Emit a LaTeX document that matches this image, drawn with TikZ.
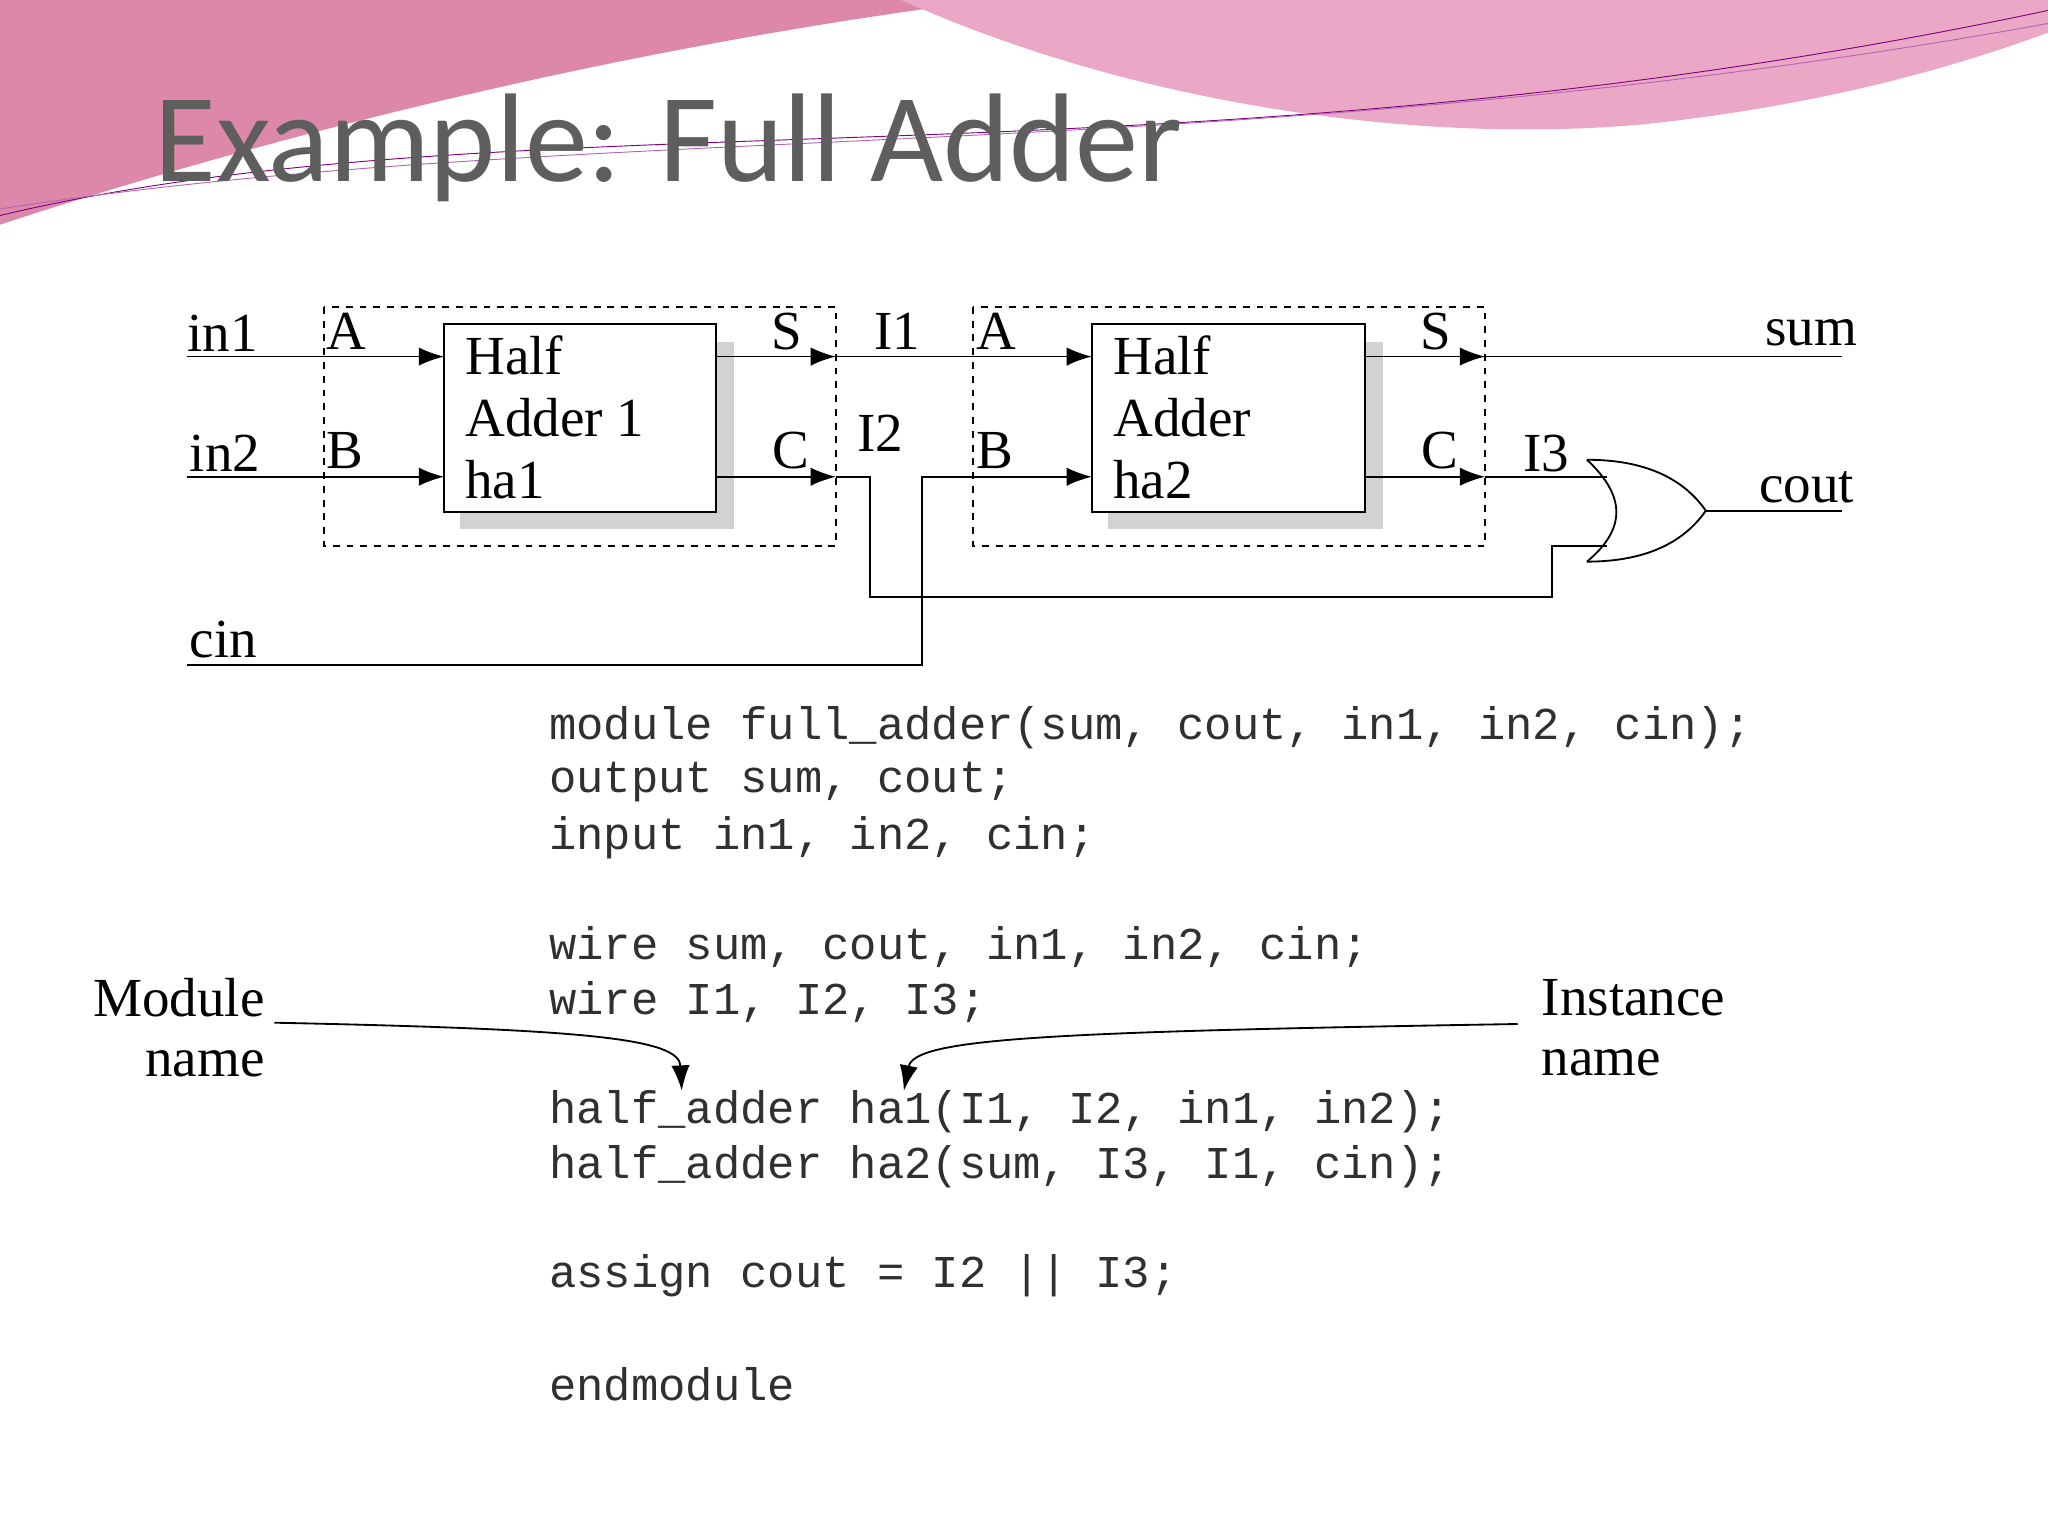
\documentclass[tikz,border=0pt]{standalone}
\usepackage{fontspec}
\setmainfont{Liberation Serif}
\newfontfamily\titlefont{Carlito}
\newfontfamily\codefont{Liberation Mono}
\usetikzlibrary{positioning, arrows.meta}
\definecolor{wavepink}{HTML}{DD88AA}
\definecolor{wavelight}{HTML}{EBA8C6}
\definecolor{titlegray}{HTML}{5E5E5E}
\definecolor{codegray}{HTML}{303030}
\tikzset{
    lbl/.style = {
        inner sep=0pt,
        anchor=west,
        font=\fontsize{24}{26}\selectfont
    },
    code/.style = {
        inner sep=0pt,
        anchor=west,
        text=codegray,
        font=\codefont\fontsize{19.85}{21}\selectfont
    },
    block/.style = {
        draw,
        thick,
        fill=white
    },
    frame/.style = {
        draw,
        dashed,
        thick
    },
    wire/.style = {
        thick
    },
    tip/.style = {
        -{Latex[length=11pt, width=8pt]}
    },
}

\begin{document}
\begin{tikzpicture}[x=0.02cm, y=-0.02cm]
    \useasboundingbox (0,0) rectangle (1568,1176);
    % background wave
    \fill[wavepink] (0,0) -- (0,172) .. controls (250,90) and (520,30) .. (760,0) -- cycle;
    \fill[wavelight] (690,0) .. controls (880,85) and (1100,110) .. (1260,95) .. controls (1400,80) and (1500,50) .. (1568,25) -- (1568,0) -- cycle;
    \draw[violet, thin] (0,165) .. controls (400,70) and (900,150) .. (1568,8);
    \draw[violet!60, thin] (0,160) .. controls (450,90) and (950,130) .. (1568,18);

    \node[inner sep=0pt, anchor=west, text=titlegray, font=\titlefont\fontsize{55}{58}\selectfont] (title) at (118,113) {Example: Full Adder};

    % half adders
    \draw[frame] (248,235) rectangle (640,418);
    \draw[frame] (745,235) rectangle (1137,418);
    \fill[gray!35] (352,262) rectangle (562,405);
    \fill[gray!35] (848,262) rectangle (1059,405);
    \draw[block] (340,248) rectangle (548,392);
    \draw[block] (836,248) rectangle (1045,392);
    \coordinate (ha1A) at (340,273);
    \coordinate (ha1B) at (340,365);
    \coordinate (ha1S) at (548,273);
    \coordinate (ha1C) at (548,365);
    \coordinate (ha2A) at (836,273);
    \coordinate (ha2B) at (836,365);
    \coordinate (ha2S) at (1045,273);
    \coordinate (ha2C) at (1045,365);
    \coordinate (f1S) at (640,273);
    \coordinate (f1C) at (640,365);
    \coordinate (f2S) at (1137,273);
    \coordinate (f2C) at (1137,365);

    \node[lbl] (h1a) at (356,272) {Half};
    \node[lbl] (h1b) at (356,320) {Adder 1};
    \node[lbl] (h1c) at (356,367) {ha1};
    \node[lbl] (h2a) at (852,272) {Half};
    \node[lbl] (h2b) at (852,320) {Adder};
    \node[lbl] (h2c) at (852,367) {ha2};

    % port labels
    \node[lbl] (pA1) at (250,254) {A};
    \node[lbl] (pB1) at (250,345) {B};
    \node[lbl] (pS1) at (590,254) {S};
    \node[lbl] (pC1) at (591,345) {C};
    \node[lbl] (pA2) at (747,254) {A};
    \node[lbl] (pB2) at (747,345) {B};
    \node[lbl] (pS2) at (1087,254) {S};
    \node[lbl] (pC2) at (1088,345) {C};
    \node[lbl] (lI1) at (669,254) {I1};
    \node[lbl] (lI2) at (656,332) {I2};
    \node[lbl] (lI3) at (1166,347) {I3};

    % signal names
    \node[lbl] (in1) at (143,255) {in1};
    \node[lbl] (in2) at (145,347) {in2};
    \node[lbl] (cin) at (145,490) {cin};
    \node[lbl, anchor=east] (sum) at (1422,255) {sum};
    \node[lbl, anchor=east] (cout) at (1420,373) {cout};

    % or gate
    \draw[thick] (1215,352) .. controls (1245,380) and (1245,405) .. (1215,430);
    \draw[thick] (1215,352) .. controls (1262,352) and (1290,368) .. (1306,391);
    \draw[thick] (1215,430) .. controls (1262,430) and (1290,414) .. (1306,391);
    \coordinate (orA) at (1230,365);
    \coordinate (orB) at (1230,418);
    \coordinate (orY) at (1306,391);

    % wires
    \draw[wire, tip] (143,273) -- (ha1A);
    \draw[wire, tip] (143,365) -- (ha1B);
    \draw[wire, tip] (ha1S) -- (f1S);
    \draw[wire, tip] (ha1C) -- (f1C);
    \draw[wire, tip] (f1S) -- (ha2A);
    \draw[wire, tip] (ha2S) -- (f2S);
    \draw[wire, tip] (ha2C) -- (f2C);
    \draw[wire] (f2S) -- (1410,273);
    \draw[wire] (f2C) -- (orA);
    \draw[wire] (orY) -- (1410,391);
    \draw[wire] (f1C) -- (666,365) -- (666,457) -- (1188,457) -- (1188,418) -- (orB);
    \draw[wire, tip] (143,509) -- (706,509) -- (706,365) -- (ha2B);

    % verilog code
    \node[code] (c1) at (420,557) {module full\_adder(sum, cout, in1, in2, cin);};
    \node[code] (c2) at (420,599) {output sum, cout;};
    \node[code] (c3) at (420,641) {input in1, in2, cin;};
    \node[code] (c4) at (420,725) {wire sum, cout, in1, in2, cin;};
    \node[code] (c5) at (420,767) {wire I1, I2, I3;};
    \node[code] (c6) at (420,851) {half\_adder ha1(I1, I2, in1, in2);};
    \node[code] (c7) at (420,893) {half\_adder ha2(sum, I3, I1, cin);};
    \node[code] (c8) at (420,977) {assign cout = I2 || I3;};
    \node[code] (c9) at (420,1060) {endmodule};

    % callouts
    \node[lbl, anchor=east, align=right] (modname) at (203,787) {Module\\name};
    \node[lbl, align=left] (instname) at (1180,787) {Instance\\name};
    \coordinate (modtip) at (522,835);
    \coordinate (insttip) at (692,835);
    \draw[wire, tip] (210,783) .. controls (450,788) and (520,795) .. (modtip);
    \draw[wire, tip] (1162,784) .. controls (800,790) and (700,795) .. (insttip);
\end{tikzpicture}
\end{document}
